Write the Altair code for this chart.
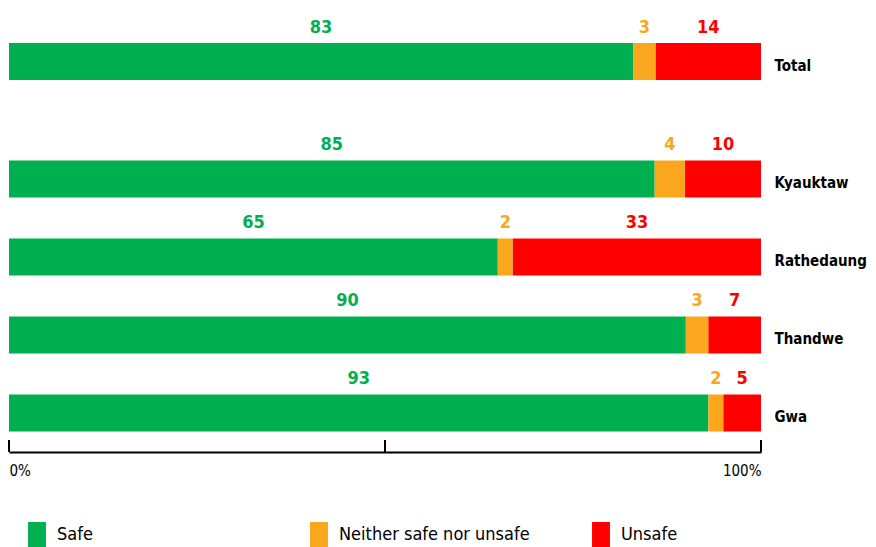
import altair as alt
import pandas as pd

categories = ["Total", "Kyauktaw", "Rathedaung", "Thandwe", "Gwa"]
safe = [83, 85, 65, 90, 93]
neither = [3, 4, 2, 3, 2]
unsafe = [14, 10, 33, 7, 5]
responses = ["Safe", "Neither safe nor unsafe", "Unsafe"]
colors = ["#00AF50", "#FAA71D", "#FF0000"]
axis_ticks = [0, 50, 100]

FONT = "DejaVu Sans Condensed, sans-serif"

rows = []
for i, c in enumerate(categories):
    vals = [safe[i], neither[i], unsafe[i]]
    for j, r in enumerate(responses):
        rows.append({"category": c, "response": r, "value": vals[j], "order": j,
                     "group": "total" if c == "Total" else "towns"})
df = pd.DataFrame(rows)
ticks_df = pd.DataFrame({"t": [v / 100 for v in axis_ticks]})

color_enc = alt.Color(
    "response:N",
    scale=alt.Scale(domain=responses, range=colors),
    legend=alt.Legend(
        title=None, orient="none", legendX=15, legendY=514, direction="horizontal",
        columns=3, gridAlign="all", columnPadding=58, labelLimit=400,
        symbolType="M-0.69,-1L0.69,-1L0.69,1L-0.69,1Z", symbolSize=676,
        symbolStrokeWidth=0, symbolOpacity=1, labelFont=FONT, labelFontSize=18,
        labelColor="#000", labelOffset=7, padding=0,
    ),
)


def panel(group, cats, height, show_x):
    base = (
        alt.Chart(df)
        .transform_filter(alt.datum.group == group)
        .transform_joinaggregate(total="sum(value)", groupby=["category"])
        .transform_window(cum="sum(value)", groupby=["category"],
                          sort=[alt.SortField("order")], frame=[None, 0])
        .transform_calculate(
            x0="(datum.cum - datum.value) / datum.total",
            x1="datum.cum / datum.total",
            mid="(datum.cum - datum.value / 2) / datum.total",
        )
    )
    yenc = alt.Y(
        "category:N", sort=cats,
        scale=alt.Scale(domain=cats, paddingInner=0, paddingOuter=0),
        axis=alt.Axis(orient="right", title=None, domain=False, ticks=False,
                      labelFont=FONT, labelFontSize=15, labelFontWeight="bold",
                      labelColor="#000", labelPadding=13, labelOffset=4),
    )
    if show_x:
        xaxis = alt.Axis(values=[v / 100 for v in axis_ticks], title=None, grid=False,
                         ticks=False, domain=True, domainColor="#000", domainWidth=2,
                         labelExpr="datum.value == 0 ? '0%' : (datum.value == 1 ? '100%' : '')",
                         labelFlush=True, labelFont=FONT, labelFontSize=15,
                         labelColor="#000", labelPadding=11)
    else:
        xaxis = None
    xscale = alt.Scale(domain=[0, 1], nice=False, zero=True)
    bars = base.mark_bar(size=37).encode(
        x=alt.X("x0:Q", scale=xscale, axis=xaxis),
        x2="x1:Q",
        y=yenc,
        color=color_enc,
    )
    text = base.mark_text(font=FONT, fontSize=18, fontWeight="bold",
                          baseline="alphabetic", dy=-29).encode(
        x=alt.X("mid:Q", scale=xscale),
        y=alt.Y("category:N", sort=cats),
        text="value:Q",
        color=color_enc,
    )
    layers = [bars, text]
    if show_x:
        tk = alt.Chart(ticks_df).mark_rule(color="#000", strokeWidth=2).encode(
            x=alt.X("t:Q", scale=xscale),
            y=alt.value(height - 12),
            y2=alt.value(height),
        )
        layers.append(tk)
    return alt.layer(*layers).properties(width=752, height=height)


p1 = panel("total", ["Total"], 107, False)
p2 = panel("towns", categories[1:], 312, True)

chart = (
    alt.vconcat(p1, p2, spacing=21)
    .properties(padding={"left": 0, "top": 0, "right": 0, "bottom": 0})
    .configure_view(stroke=None)
)

chart.save("out.html", embed_options={"renderer": "svg", "actions": False})
